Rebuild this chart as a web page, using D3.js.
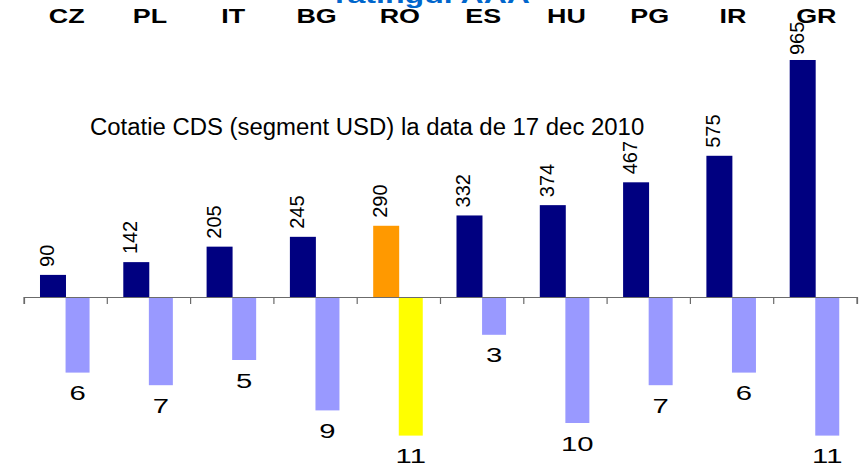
<!DOCTYPE html>
<html>
<head>
<meta charset="utf-8">
<script src="https://cdn.jsdelivr.net/npm/d3@7"></script>
<style>
  html, body { margin: 0; padding: 0; background: #fff; }
  svg { display: block; }
  text { font-family: "Liberation Sans", Arial, sans-serif; }
</style>
</head>
<body>
<svg id="chart" width="861" height="465"></svg>
<script>
// ---- data ----
const categories = ["CZ", "PL", "IT", "BG", "RO", "ES", "HU", "PG", "IR", "GR"];
const cdsValues = [90, 142, 205, 245, 290, 332, 374, 467, 575, 965];
const notchesBelowAAA = [6, 7, 5, 9, 11, 3, 10, 7, 6, 11];
const highlightCategory = "RO";
const titleText = "ratingul AAA";
const subtitleText = "Cotatie CDS (segment USD) la data de 17 dec 2010";

// ---- layout ----
const W = 861, H = 465;
const zeroY = 297;
const svg = d3.select("#chart");

const x = d3.scaleBand().domain(categories).range([24, 857]).padding(0);
const yTop = d3.scaleLinear().domain([0, 1000]).range([zeroY, zeroY - 245.6]);
const yBot = d3.scaleLinear().domain([0, 11]).range([zeroY, zeroY + 138.6]);

const bw = x.bandwidth();
const topOff = bw * 0.192, topW = bw * 0.312;
const botOff = bw * 0.499, botW = bw * 0.288;

const cols = {
  top: "#000080", topHi: "#FF9900",
  bot: "#9999FF", botHi: "#FFFF00"
};

const rows = categories.map((c, i) => ({ c, cds: cdsValues[i], n: notchesBelowAAA[i] }));

// bars (top)
svg.append("g").selectAll("rect").data(rows).join("rect")
  .attr("x", d => x(d.c) + topOff)
  .attr("y", d => yTop(d.cds))
  .attr("width", topW)
  .attr("height", d => zeroY - yTop(d.cds))
  .attr("fill", d => d.c === highlightCategory ? cols.topHi : cols.top);

// bars (bottom)
svg.append("g").selectAll("rect").data(rows).join("rect")
  .attr("x", d => x(d.c) + botOff)
  .attr("y", zeroY)
  .attr("width", botW)
  .attr("height", d => yBot(d.n) - zeroY)
  .attr("fill", d => d.c === highlightCategory ? cols.botHi : cols.bot);

// axis
const axis = d3.axisBottom(x).tickSize(7).tickFormat("").tickSizeOuter(7);
const ag = svg.append("g").attr("transform", `translate(0,${zeroY})`).call(axis);
ag.select(".domain").attr("stroke", "#6b6b6b").attr("stroke-width", 1.2);
ag.selectAll(".tick").remove();
// ticks at band boundaries
const bounds = categories.map(c => x(c)).concat([x.range()[1]]);
ag.selectAll("line.bt").data(bounds).join("line")
  .attr("class", "bt")
  .attr("x1", d => d).attr("x2", d => d)
  .attr("y1", 0).attr("y2", 7)
  .attr("stroke", "#6b6b6b").attr("stroke-width", 1.2);

// rotated value labels (top)
svg.append("g").selectAll("text").data(rows).join("text")
  .attr("transform", d => {
    const cx = x(d.c) + topOff + topW / 2 + 1;
    const y = Math.max(yTop(d.cds) - 8, 55);
    return `translate(${cx},${y}) rotate(-90)`;
  })
  .attr("text-anchor", "start")
  .attr("font-size", 20)
  .attr("fill", "#000")
  .text(d => d.cds);

// value labels (bottom)
svg.append("g").selectAll("text").data(rows).join("text")
  .attr("transform", d => {
    const cx = x(d.c) + botOff + botW / 2;
    const y = yBot(d.n) + 27.5;
    return `translate(${cx},${y}) scale(1.5,1)`;
  })
  .attr("text-anchor", "middle")
  .attr("font-size", 19.5)
  .attr("fill", "#000")
  .text(d => d.n);

// category labels (top)
svg.append("g").selectAll("text").data(categories).join("text")
  .attr("transform", d => `translate(${x(d) + bw / 2 + 1},23.3) scale(1.38,1)`)
  .attr("text-anchor", "middle")
  .attr("font-size", 19.5)
  .attr("font-weight", "bold")
  .attr("fill", "#000")
  .text(d => d);

// subtitle
svg.append("text")
  .attr("transform", "translate(90,135) scale(1.04,1)")
  .attr("font-size", 23)
  .attr("fill", "#000")
  .text(subtitleText);

// title (cut at top)
svg.append("text")
  .attr("x", 335).attr("y", 3)
  .attr("font-size", 22)
  .attr("font-weight", "bold")
  .attr("fill", "#0066CC")
  .attr("textLength", 195)
  .attr("lengthAdjust", "spacingAndGlyphs")
  .text(titleText);
</script>
</body>
</html>
